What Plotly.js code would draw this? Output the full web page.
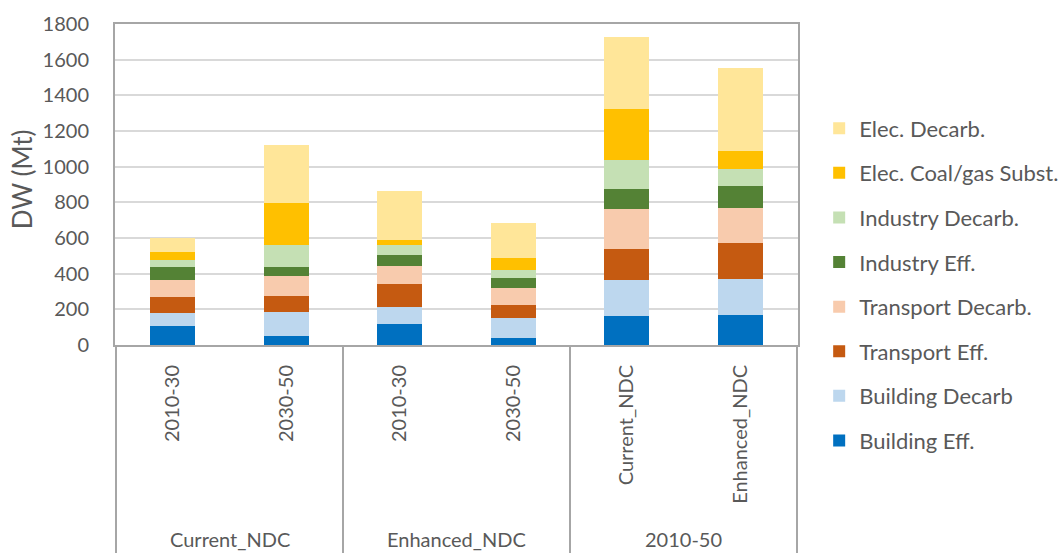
<!DOCTYPE html>
<html>
<head>
<meta charset="utf-8">
<script src="https://cdn.plot.ly/plotly-3.0.1.min.js"></script>
<style>html,body{margin:0;padding:0;background:#fff}#chart{width:1060px;height:553px}</style>
</head>
<body>
<div id="chart"></div>
<script>
const groups = ["Current_NDC", "Current_NDC", "Enhanced_NDC", "Enhanced_NDC", "2010-50", "2010-50"];
const periods = ["2010-30", "2030-50", "2010-30", "2030-50", "Current_NDC", "Enhanced_NDC"];

const seriesNames = ["Building Eff.", "Building Decarb", "Transport Eff.", "Transport Decarb.",
  "Industry Eff.", "Industry Decarb.", "Elec. Coal/gas Subst.", "Elec. Decarb."];
const seriesColors = ["#0070C0", "#BDD7EE", "#C55A11", "#F8CBAD", "#548235", "#C5E0B4", "#FFC000", "#FFE699"];

const buildingEff     = [105, 51, 118, 41, 163, 166];
const buildingDecarb  = [73, 135, 93, 112, 202, 205];
const transportEff    = [90, 86, 129, 69, 174, 200];
const transportDecarb = [98, 116, 105, 98, 221, 199];
const industryEff     = [71, 48, 62, 54, 116, 121];
const industryDecarb  = [38, 122, 51, 45, 163, 94];
const elecCoalGas     = [47, 238, 30, 71, 284, 101];
const elecDecarb      = [79, 324, 274, 193, 403, 468];

const seriesValues = [buildingEff, buildingDecarb, transportEff, transportDecarb,
  industryEff, industryDecarb, elecCoalGas, elecDecarb];

const yTicks = [0, 200, 400, 600, 800, 1000, 1200, 1400, 1600, 1800];
const yTitle = "DW (Mt)";

const FONT = "Lato, 'Open Sans', sans-serif";
const GREY = "#595959";
const LINE = "#a6a6a6";

// unique category keys (group + period), labelled with the period
const keys = groups.map((g, i) => g + " | " + periods[i]);

const traces = seriesNames.map((name, i) => ({
  type: "bar",
  name: name,
  x: keys,
  y: seriesValues[i],
  marker: {color: seriesColors[i], line: {width: 0}},
  legendgroup: "g" + i,
  legendrank: seriesNames.length - i,
  hoverinfo: "name+y"
}));

// group spans for outer labels and dividers
const groupNames = [];
const groupSpans = [];
groups.forEach((g, i) => {
  const last = groupNames.length - 1;
  if (last < 0 || groupNames[last] !== g) { groupNames.push(g); groupSpans.push([i, i]); }
  else groupSpans[last][1] = i;
});

const bottomFrac = 208 / 321;
const shapes = [{type: "line", xref: "x", yref: "paper", x0: -0.5, x1: -0.5, y0: 0, y1: -bottomFrac,
  line: {color: LINE, width: 2}}];
groupSpans.forEach(s => shapes.push({type: "line", xref: "x", yref: "paper",
  x0: s[1] + 0.5, x1: s[1] + 0.5, y0: 0, y1: -bottomFrac, line: {color: LINE, width: 2}}));

const annotations = groupNames.map((g, k) => ({
  text: g, xref: "x", yref: "paper",
  x: (groupSpans[k][0] + groupSpans[k][1]) / 2, y: -0.605,
  xanchor: "center", yanchor: "middle", showarrow: false,
  font: {family: FONT, color: GREY, size: 20}
}));
annotations.push({
  text: yTitle, xref: "paper", yref: "paper", x: -0.136, y: 0.517,
  xanchor: "center", yanchor: "middle", textangle: -90, showarrow: false,
  font: {family: FONT, color: GREY, size: 26}
});

const layout = {
  width: 1060, height: 553,
  margin: {l: 115, r: 262, t: 24, b: 208, autoexpand: false},
  paper_bgcolor: "#fff", plot_bgcolor: "#fff",
  barmode: "stack",
  bargap: 0.6,
  font: {family: FONT, color: GREY, size: 20},
  xaxis: {
    type: "category",
    tickvals: keys,
    ticktext: periods,
    tickangle: -90,
    showline: true, linecolor: LINE, linewidth: 2, mirror: true,
    ticks: "",
    ticklabelstandoff: 10,
    tickfont: {family: FONT, color: GREY, size: 20},
    showgrid: false
  },
  yaxis: {
    range: [0, 1800],
    tickvals: yTicks,
    ticktext: yTicks.map(String),
    showline: true, linecolor: LINE, linewidth: 2, mirror: true,
    gridcolor: "#d9d9d9", gridwidth: 2,
    ticks: "",
    ticklabelstandoff: 20,
    zeroline: false,
    tickfont: {family: FONT, color: GREY, size: 20}
  },
  legend: {
    x: 1.031, xanchor: "left",
    y: 0.74, yanchor: "top",
    traceorder: "grouped",
    tracegroupgap: 13,
    maxheight: 520,
    font: {family: FONT, color: GREY, size: 22},
    bgcolor: "rgba(0,0,0,0)"
  },
  shapes: shapes,
  annotations: annotations,
  showlegend: true
};

Plotly.newPlot("chart", traces, layout, {displayModeBar: false, staticPlot: true});
</script>
</body>
</html>
